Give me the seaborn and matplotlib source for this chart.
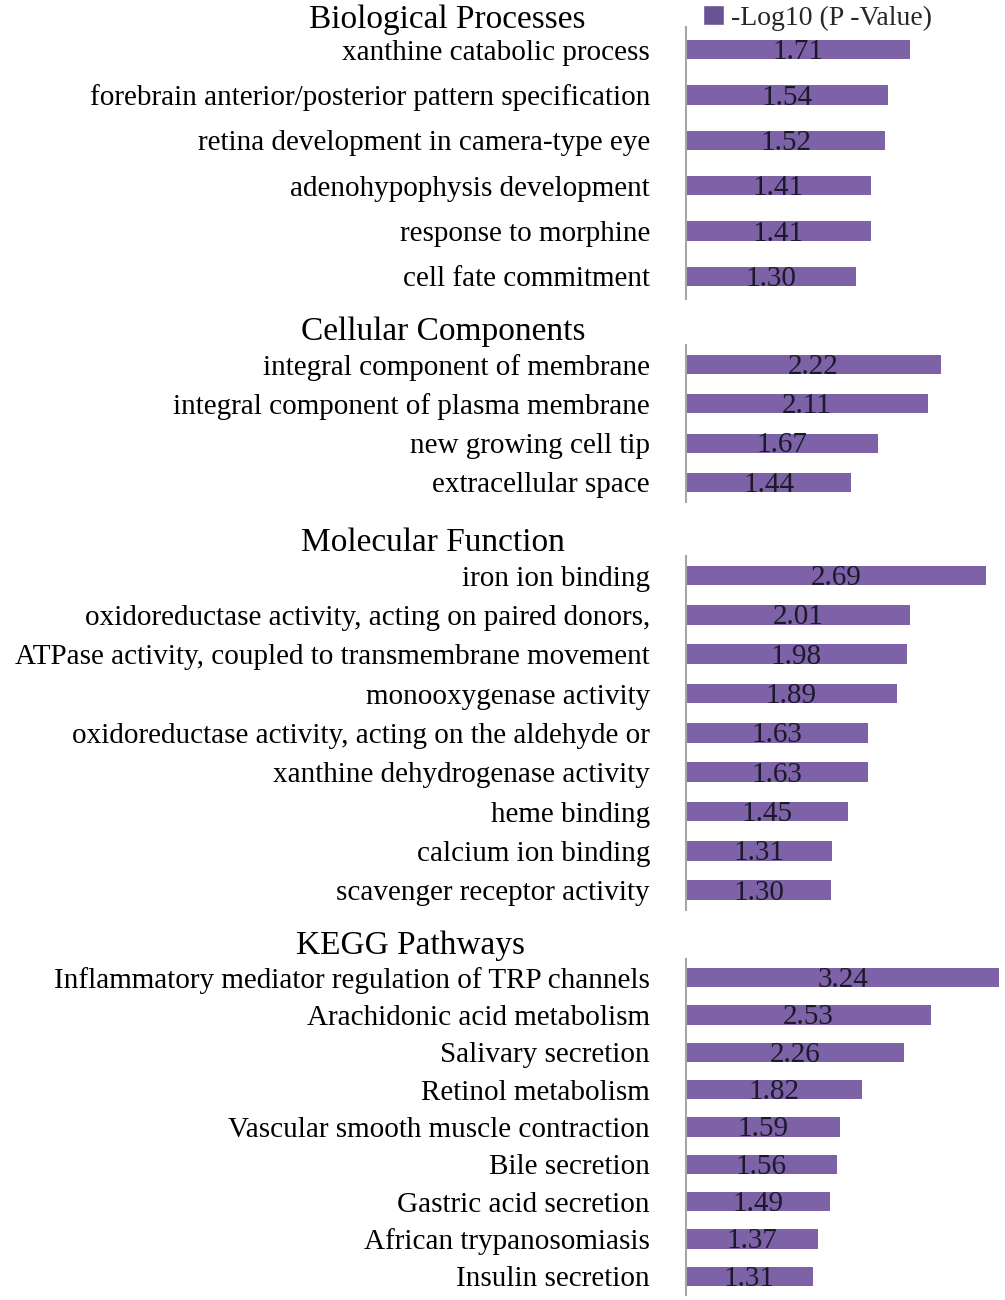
import matplotlib
matplotlib.use('Agg')
import matplotlib.pyplot as plt
import seaborn as sns
from matplotlib.patches import Patch

bp_terms = [
    'xanthine catabolic process',
    'forebrain anterior/posterior pattern specification',
    'retina development in camera-type eye',
    'adenohypophysis development',
    'response to morphine',
    'cell fate commitment',
]
bp_values = [1.71, 1.54, 1.52, 1.41, 1.41, 1.30]

cc_terms = [
    'integral component of membrane',
    'integral component of plasma membrane',
    'new growing cell tip',
    'extracellular space',
]
cc_values = [2.22, 2.11, 1.67, 1.44]

mf_terms = [
    'iron ion binding',
    'oxidoreductase activity, acting on paired donors,',
    'ATPase activity, coupled to transmembrane movement',
    'monooxygenase activity',
    'oxidoreductase activity, acting on the aldehyde or',
    'xanthine dehydrogenase activity',
    'heme binding',
    'calcium ion binding',
    'scavenger receptor activity',
]
mf_values = [2.69, 2.01, 1.98, 1.89, 1.63, 1.63, 1.45, 1.31, 1.30]

kegg_terms = [
    'Inflammatory mediator regulation of TRP channels',
    'Arachidonic acid metabolism',
    'Salivary secretion',
    'Retinol metabolism',
    'Vascular smooth muscle contraction',
    'Bile secretion',
    'Gastric acid secretion',
    'African trypanosomiasis',
    'Insulin secretion',
]
kegg_values = [3.24, 2.53, 2.26, 1.82, 1.59, 1.56, 1.49, 1.37, 1.31]

legend_label = '-Log10 (P -Value)'

BAR_COLOR = '#7d62a7'
W, H = 1005, 1300

sns.set_theme(style='white')
plt.rcParams['font.family'] = ['Liberation Serif', 'DejaVu Serif']

fig = plt.figure(figsize=(W / 100, H / 100), dpi=100)

# (title, terms, values, top px, bottom px, xmax, bar width, title x, title y)
panels = [
    ('Biological Processes', bp_terms, bp_values, 27, 299, 2.435, 0.42, 447, 20),
    ('Cellular Components', cc_terms, cc_values, 345, 502, 2.78, 0.49, 443, 332),
    ('Molecular Function', mf_terms, mf_values, 556, 910, 2.86, 0.5, 433, 543),
    ('KEGG Pathways', kegg_terms, kegg_values, 959, 1295, 3.30, 0.51, 410, 946),
]

x0 = 686
for title, terms, values, top, bottom, xmax, bw, tx, ty in panels:
    ax = fig.add_axes([x0 / W, 1 - bottom / H, (W - x0) / W, (bottom - top) / H])
    sns.barplot(x=values, y=terms, color=BAR_COLOR, width=bw,
                saturation=1, linewidth=0, ax=ax)
    ax.set_xlim(0, xmax)
    ax.set_ylim(len(terms) - 0.5, -0.5)
    ax.set_xlabel('')
    ax.set_ylabel('')
    ax.xaxis.set_visible(False)
    ax.tick_params(axis='y', length=0, pad=26, labelsize=21, labelcolor='black')
    for side in ['top', 'right', 'bottom']:
        ax.spines[side].set_visible(False)
    ax.spines['left'].set_color('#a6a6a6')
    ax.spines['left'].set_linewidth(1.5)
    ax.patch.set_alpha(0)

    for i, v in enumerate(values):
        ax.text(v / 2, i + 0.06, f'{v:.2f}', ha='center', va='center',
                fontsize=21, color='#1c1a2a')

    fig.text(tx / W, 1 - ty / H, title, ha='center', va='center',
             fontsize=24, color='black')

fig.legend(handles=[Patch(facecolor='#6a5394', label=legend_label)],
           loc='center left', bbox_to_anchor=(689 / W, 1 - 18 / H),
           frameon=False, fontsize=20, handlelength=0.75, handleheight=0.75,
           handletextpad=0.25, borderpad=0)

fig.savefig('out.png', dpi=100)
plt.close(fig)
